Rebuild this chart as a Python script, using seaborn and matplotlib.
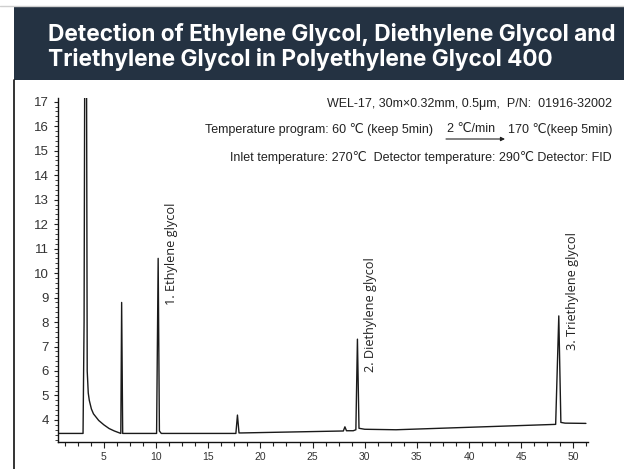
import matplotlib
matplotlib.use("Agg")
import matplotlib.pyplot as plt
from matplotlib.patches import Rectangle
from matplotlib.lines import Line2D
from matplotlib.ticker import MultipleLocator
import pandas as pd
import seaborn as sns

# chromatogram trace (retention time, signal)
time_min = [0.7, 3.0, 3.1, 3.2, 3.3, 3.4, 3.5, 3.6, 3.8, 4.0, 4.5, 5.0, 5.5, 6.0, 6.5,
            6.62, 6.7, 6.8, 10.05, 10.2, 10.32, 10.5, 17.65, 17.8, 17.95, 18.2,
            27.95, 28.1, 28.25, 28.9, 29.15, 29.3, 29.45, 30.0, 33.0, 48.3,
            48.6, 48.8, 49.2, 51.2]
signal = [3.45, 3.45, 8.0, 25.0, 25.0, 6.0, 5.1, 4.8, 4.45, 4.25, 3.98, 3.8, 3.65, 3.55, 3.47,
          3.45, 8.8, 3.45, 3.45, 10.6, 3.55, 3.45, 3.45, 4.2, 3.47, 3.47,
          3.55, 3.72, 3.56, 3.56, 3.6, 7.3, 3.66, 3.62, 3.6, 3.82,
          8.25, 3.9, 3.87, 3.86]

peak_names = ["1. Ethylene glycol", "2. Diethylene glycol", "3. Triethylene glycol"]
peak_label_x = [11.5, 30.6, 49.9]
peak_label_y = [8.7, 5.95, 6.85]

title = "Detection of Ethylene Glycol, Diethylene Glycol and\nTriethylene Glycol in Polyethylene Glycol 400"
column_text = "WEL-17, 30m\u00d70.32mm, 0.5\u03bcm,  P/N:  01916-32002"
program_parts = ["Temperature program: 60 \u2103 (keep 5min)", "2 \u2103/min", "170 \u2103(keep 5min)"]
detector_text = "Inlet temperature: 270\u2103  Detector temperature: 290\u2103 Detector: FID"

sns.set_theme(style="ticks")
plt.rcParams["font.family"] = ["Liberation Sans", "DejaVu Sans"]

df = pd.DataFrame({"time": time_min, "signal": signal})

fig = plt.figure(figsize=(6.24, 4.69), dpi=100)
fig.patch.set_facecolor("white")

# header band
fig.patches.append(Rectangle((14 / 624, 1 - 80 / 469), 1, 73 / 469, transform=fig.transFigure,
                             facecolor="#243242", edgecolor="none", zorder=0))
fig.add_artist(Line2D([0, 1], [1 - 6 / 469, 1 - 6 / 469], color="#cfcfcf", lw=1))
fig.add_artist(Line2D([14 / 624, 14 / 624], [0, 1 - 80 / 469], color="#111111", lw=1.2))
fig.text(48 / 624, 1 - 47 / 469, title, color="white", fontsize=16.3, fontweight="bold",
         family=["Inter", "DejaVu Sans"], va="center", ha="left", linespacing=1.1)

ax = fig.add_axes([58 / 624, 1 - 442 / 469, (588 - 58) / 624, (442 - 98) / 469])
sns.lineplot(data=df, x="time", y="signal", sort=False, estimator=None,
             color="#1a1a1a", linewidth=1.0, ax=ax)

ax.set_xlim(0.6, 51.4)
ax.set_ylim(3.1, 17.15)
ax.set_xlabel("")
ax.set_ylabel("")
ax.xaxis.set_major_locator(MultipleLocator(5))
ax.xaxis.set_minor_locator(MultipleLocator(1.25))
ax.yaxis.set_minor_locator(MultipleLocator(0.2))
ax.set_yticks(range(4, 18))
ax.tick_params(axis="x", which="major", labelsize=7.5, length=4, width=0.8, colors="#222222",
               labelcolor="#333333")
ax.tick_params(axis="x", which="minor", length=3, width=0.8, colors="#222222")
ax.tick_params(axis="y", which="major", labelsize=9.5, length=3, width=0.8, colors="#222222",
               labelcolor="#333333")
ax.tick_params(axis="y", which="minor", length=2, width=0.6, colors="#222222")
for side in ["top", "right"]:
    ax.spines[side].set_visible(False)
for side in ["left", "bottom"]:
    ax.spines[side].set_color("#111111")
    ax.spines[side].set_linewidth(1.0)

for name, x, y in zip(peak_names, peak_label_x, peak_label_y):
    ax.text(x, y, name, rotation=90, ha="center", va="bottom", fontsize=9.2,
            family=["Open Sans", "DejaVu Sans"], color="#222222")

# chromatographic conditions
cond_kw = dict(va="center", fontsize=9.0, color="#222222")
fig.text(612 / 624, 1 - 104 / 469, column_text, ha="right", **cond_kw)
fig.text(433 / 624, 1 - 129 / 469, program_parts[0], ha="right", **cond_kw)
fig.text(471 / 624, 1 - 129 / 469, program_parts[1], ha="center", **cond_kw)
fig.text(612 / 624, 1 - 129 / 469, program_parts[2], ha="right", **cond_kw)
fig.text(612 / 624, 1 - 157 / 469, detector_text, ha="right", **cond_kw)
ax.annotate("", xy=(505 / 624, 1 - 139 / 469), xytext=(446 / 624, 1 - 139 / 469),
            xycoords="figure fraction", textcoords="figure fraction",
            arrowprops=dict(arrowstyle="-|>", color="#222222", lw=0.8, mutation_scale=6,
                            shrinkA=0, shrinkB=0))

fig.savefig("out.png", dpi=100)
